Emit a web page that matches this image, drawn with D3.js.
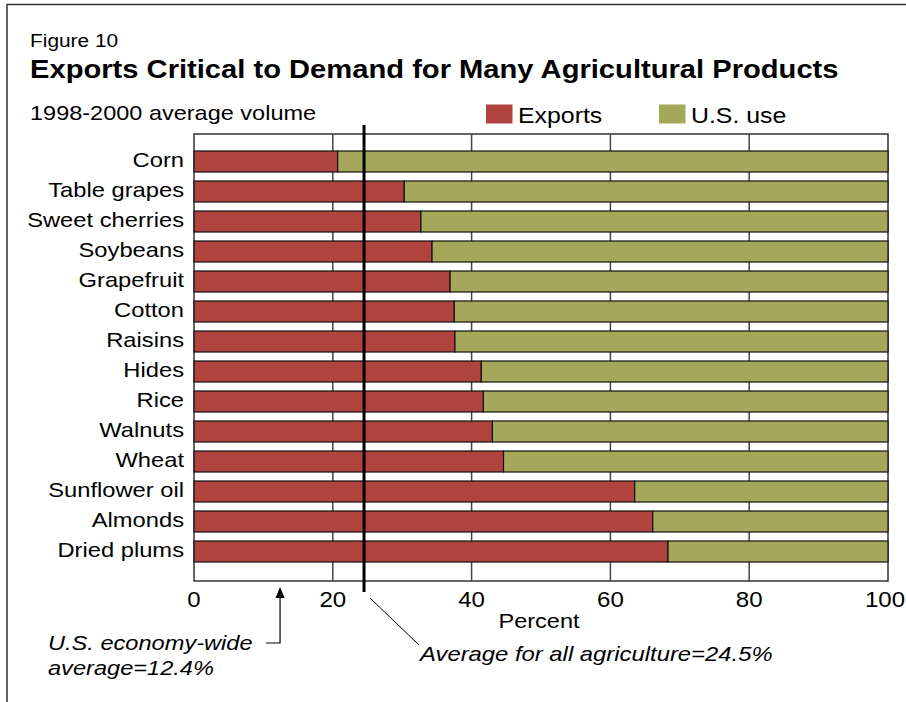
<!DOCTYPE html>
<html>
<head>
<meta charset="utf-8">
<script src="https://cdn.jsdelivr.net/npm/d3@7"></script>
<style>
  html, body { margin: 0; padding: 0; background: #fff; }
  svg { display: block; font-family: "Liberation Sans", Arial, Helvetica, sans-serif; }
</style>
</head>
<body>
<svg id="chart" width="906" height="702"></svg>
<script>
// Share of production volume, 1998-2000 average
const categories = ["Corn", "Table grapes", "Sweet cherries", "Soybeans", "Grapefruit", "Cotton",
  "Raisins", "Hides", "Rice", "Walnuts", "Wheat", "Sunflower oil", "Almonds", "Dried plums"];
const exportsPct = [20.7, 30.3, 32.7, 34.3, 36.9, 37.5, 37.6, 41.4, 41.7, 43.0, 44.6, 63.5, 66.1, 68.3];
const usUsePct   = [79.3, 69.7, 67.3, 65.7, 63.1, 62.5, 62.4, 58.6, 58.3, 57.0, 55.4, 36.5, 33.9, 31.7];
const seriesNames = ["Exports", "U.S. use"];
const seriesColors = ["#b0433e", "#a5a85a"];
const xTicks = [0, 20, 40, 60, 80, 100];
const agricultureAvg = 24.5;
const economyAvg = 12.4;

const svg = d3.select("#chart");
const SX = 1.13; // horizontal text stretch

// text helper: place at (x,y) with a horizontal stretch
function label(parent, x, y, str, opts = {}) {
  return parent.append("text")
    .attr("transform", `translate(${x},${y}) scale(${SX},1)`)
    .attr("text-anchor", opts.anchor || "start")
    .attr("font-size", opts.size || 20)
    .attr("font-weight", opts.weight || "normal")
    .attr("font-style", opts.style || "normal")
    .attr("fill", "#000")
    .text(str);
}

// outer frame (top and left edges)
svg.append("path").attr("d", "M7,702V4.5H906").attr("fill", "none")
  .attr("stroke", "#333").attr("stroke-width", 1.5);

// headings
label(svg, 30, 47, "Figure 10", { size: 18.5 });
label(svg, 30, 77.5, "Exports Critical to Demand for Many Agricultural Products", { size: 25.8, weight: "bold" });
label(svg, 30, 120, "1998-2000 average volume", { size: 20.8 });

// scales
const x = d3.scaleLinear().domain([0, 100]).range([194, 888]);
const y = d3.scaleBand().domain(categories).range([142, 571]).paddingInner(0.3).paddingOuter(0.3);
const plotTop = y.range()[0] - 8, plotBottom = y.range()[1] + 10;

// plot frame
svg.append("rect")
  .attr("x", x(0)).attr("y", plotTop)
  .attr("width", x(100) - x(0)).attr("height", plotBottom - plotTop)
  .attr("fill", "#fff").attr("stroke", "#333").attr("stroke-width", 1.5);

// vertical gridlines
svg.append("g").selectAll("line")
  .data(xTicks.filter(t => t > 0 && t < 100))
  .join("line")
  .attr("x1", d => x(d)).attr("x2", d => x(d))
  .attr("y1", plotTop).attr("y2", plotBottom)
  .attr("stroke", "#444").attr("stroke-width", 1.5);

// stacked bars
const rows = categories.map((c, i) => ({ cat: c, "Exports": exportsPct[i], "U.S. use": usUsePct[i] }));
const stacked = d3.stack().keys(seriesNames)(rows);
const color = d3.scaleOrdinal().domain(seriesNames).range(seriesColors);

svg.append("g").selectAll("g")
  .data(stacked)
  .join("g")
  .attr("fill", d => color(d.key))
  .selectAll("rect")
  .data(d => d)
  .join("rect")
  .attr("x", d => x(d[0]))
  .attr("y", d => y(d.data.cat))
  .attr("width", d => x(d[1]) - x(d[0]))
  .attr("height", y.bandwidth())
  .attr("stroke", "#111").attr("stroke-width", 1.2);

// category labels
categories.forEach(c => {
  label(svg, 184, y(c) + y.bandwidth() / 2 + 5, c, { anchor: "end", size: 21 });
});

// x tick labels
xTicks.forEach(t => {
  label(svg, t === 100 ? x(t) - 3 : x(t), 607, String(t), { anchor: "middle", size: 21.3 });
});
label(svg, (x(0) + x(100)) / 2 - 2, 628, "Percent", { anchor: "middle", size: 20.8 });

// legend
const legend = svg.append("g");
const legendX = [486, 659];
seriesNames.forEach((s, i) => {
  legend.append("rect").attr("x", legendX[i]).attr("y", 104.5).attr("width", 26.5).attr("height", 19)
    .attr("fill", color(s));
  label(legend, legendX[i] + 32, 123, s, { size: 22 });
});

// agriculture average line
const xa = x(agricultureAvg);
svg.append("line").attr("x1", xa).attr("x2", xa).attr("y1", 125).attr("y2", 592)
  .attr("stroke", "#000").attr("stroke-width", 3);
svg.append("line").attr("x1", xa + 6).attr("y1", 598).attr("x2", xa + 55).attr("y2", 645)
  .attr("stroke", "#000").attr("stroke-width", 1);
label(svg, 420, 661, "Average for all agriculture=24.5%", { size: 21.1, style: "italic" });

// economy-wide average arrow
const xe = x(economyAvg);
svg.append("path").attr("d", `M${xe - 14},643H${xe}V596`).attr("fill", "none")
  .attr("stroke", "#000").attr("stroke-width", 1.2);
svg.append("path").attr("d", `M${xe},587L${xe - 4.5},598H${xe + 4.5}Z`).attr("fill", "#000");
label(svg, 48, 650, "U.S. economy-wide", { size: 20.9, style: "italic" });
label(svg, 48, 675, "average=12.4%", { size: 20.9, style: "italic" });
</script>
</body>
</html>
